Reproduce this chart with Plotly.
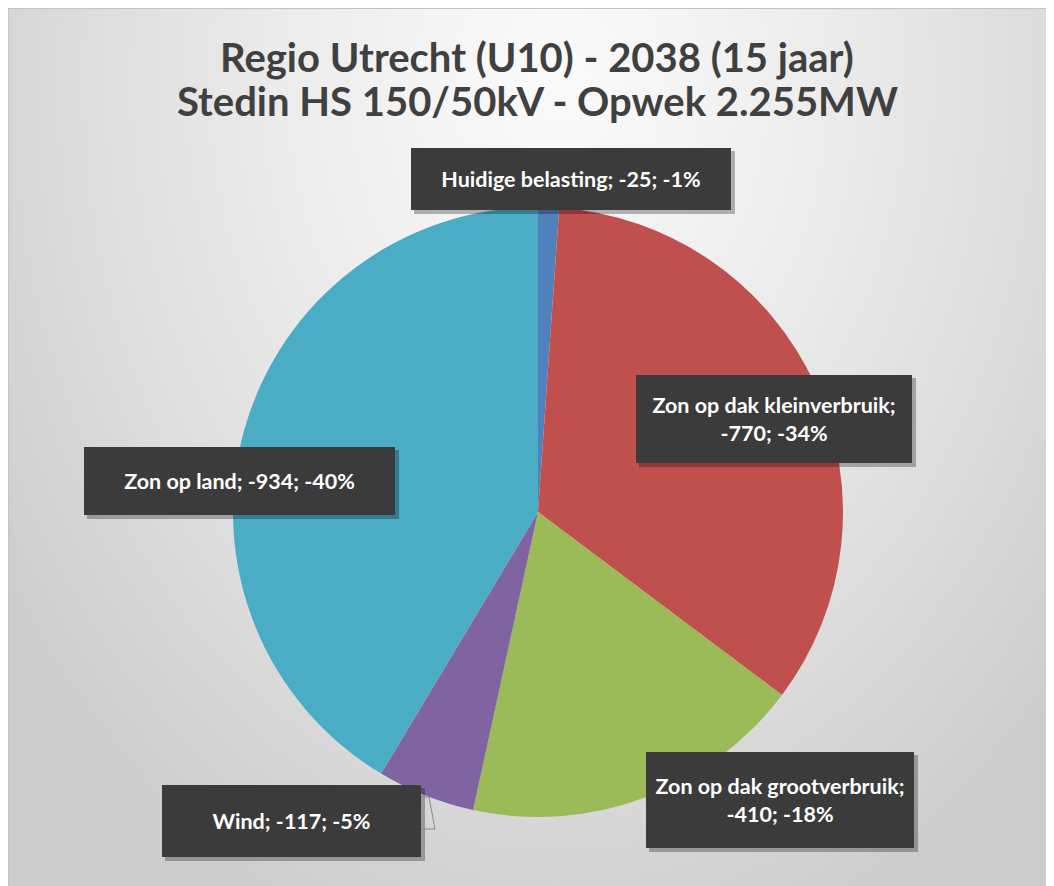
import base64, struct, zlib
import numpy as np
import plotly.graph_objects as go

# ---- data ----
categories = ["Huidige belasting", "Zon op dak kleinverbruik", "Zon op dak grootverbruik", "Wind", "Zon op land"]
values = [-25, -770, -410, -117, -934]
percent_labels = [-1, -34, -18, -5, -40]
colors = ["#4f81bd", "#c0504d", "#9bbb59", "#8064a2", "#4bacc6"]
wrap_label = [False, True, True, False, False]
title_lines = ["Regio Utrecht (U10) - 2038 (15 jaar)", "Stedin HS 150/50kV - Opwek 2.255MW"]

W, H = 1054, 886
OFF = 8  # page body margin: screen coords -> figure coords

# ---- background gradient as PNG ----
def png_uri(arr):
    h, w = arr.shape
    raw = b"".join(b"\x00" + arr[i].tobytes() for i in range(h))
    def chunk(t, d):
        c = struct.pack(">I", len(d)) + t + d
        return c + struct.pack(">I", zlib.crc32(t + d) & 0xffffffff)
    png = b"\x89PNG\r\n\x1a\n" + chunk(b"IHDR", struct.pack(">IIBBBBB", w, h, 8, 0, 0, 0, 0))
    png += chunk(b"IDAT", zlib.compress(raw, 9)) + chunk(b"IEND", b"")
    return "data:image/png;base64," + base64.b64encode(png).decode()

gw, gh = 264, 220
yy, xx = np.mgrid[0:gh, 0:gw]
cx, cy = gw * 0.52, gh * 0.08
d = np.sqrt(((xx - cx) / (gw * 0.62)) ** 2 + ((yy - cy) / (gh * 1.0)) ** 2)
g = 250 - (250 - 204) * np.clip(d / 1.05, 0, 1) ** 1.3
bg = png_uri(g.astype(np.uint8))

def px(x):
    return (x - OFF) / W

def py(y):
    return 1 - (y - OFF) / H

fig = go.Figure()
fig.add_trace(go.Pie(
    labels=categories,
    values=[abs(v) for v in values],
    marker=dict(colors=colors, line=dict(width=0)),
    sort=False,
    direction="clockwise",
    rotation=0,
    textinfo="none",
    hoverinfo="label+value+percent",
    showlegend=False,
    domain=dict(x=[px(233), px(843)], y=[py(817), py(207)]),
))

# label boxes in screen pixels (x0, y0, x1, y1)
boxes = [(411, 148, 731, 210), (636, 375, 912, 463), (646, 752, 914, 848),
         (162, 785, 421, 857), (84, 447, 395, 515)]

shapes = []
annotations = []
for name, v, p, wrap, (x0, y0, x1, y1) in zip(categories, values, percent_labels, wrap_label, boxes):
    sep = "<br>" if wrap else " "
    txt = f"{name};{sep}{v}; {p}%"
    shapes.append(dict(type="rect", xref="paper", yref="paper",
                       x0=px(x0 + 3), x1=px(x1 + 4), y0=py(y1 + 4), y1=py(y0 + 3),
                       fillcolor="rgba(0,0,0,0.28)", line=dict(width=0), layer="above"))
    annotations.append(dict(
        x=px((x0 + x1) / 2), y=py((y0 + y1) / 2), xref="paper", yref="paper",
        xanchor="center", yanchor="middle", showarrow=False,
        text=txt, width=x1 - x0, height=y1 - y0, borderpad=0,
        bgcolor="#3b3b3b", borderwidth=0,
        font=dict(family="Lato", size=21.5, color="white", weight="bold"),
        align="center", valign="middle",
    ))

# leader line for Wind
shapes.append(dict(type="path", xref="paper", yref="paper",
                   path=f"M {px(421)} {py(797)} L {px(429)} {py(797)} L {px(435)} {py(829)} L {px(421)} {py(829)}",
                   line=dict(color="#8a8a8a", width=1), layer="above"))

# frame
shapes.append(dict(type="rect", xref="paper", yref="paper", x0=0, x1=1.01, y0=-0.01, y1=1,
                   line=dict(color="#c4c4c4", width=2), fillcolor="rgba(0,0,0,0)", layer="below"))

for line, yc in zip(title_lines, [57, 101]):
    annotations.append(dict(
        x=px(537), y=py(yc), xref="paper", yref="paper", xanchor="center", yanchor="middle",
        showarrow=False, text=line,
        font=dict(family="Lato", size=40, color="#404040", weight="bold"),
    ))

fig.update_layout(
    width=W, height=H,
    margin=dict(l=0, r=0, t=0, b=0),
    paper_bgcolor="#e0e0e0",
    plot_bgcolor="rgba(0,0,0,0)",
    images=[dict(source=bg, xref="paper", yref="paper", x=0, y=1,
                 sizex=1, sizey=1, sizing="stretch", layer="below",
                 xanchor="left", yanchor="top")],
    shapes=shapes,
    annotations=annotations,
)

fig.write_html("out.html")
